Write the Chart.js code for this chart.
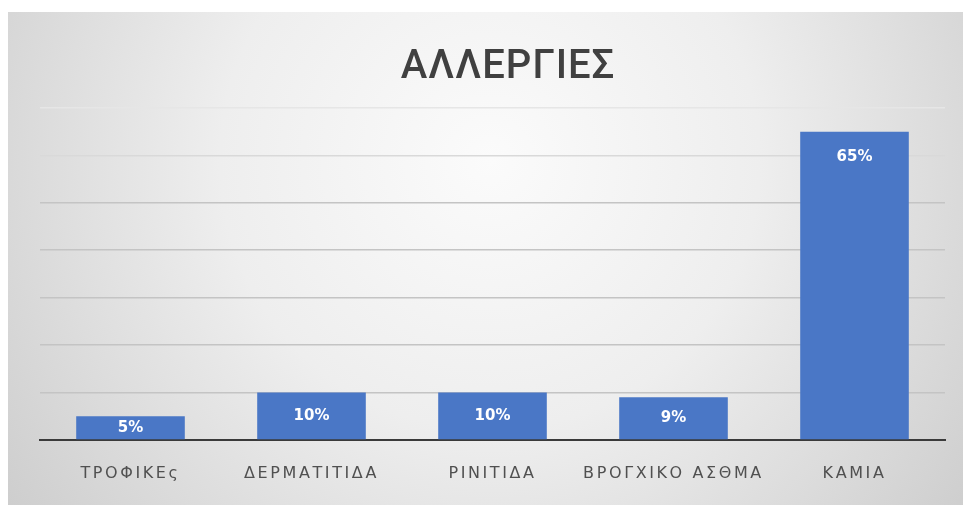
<!DOCTYPE html>
<html>
<head>
<meta charset="utf-8">
<script src="https://cdn.jsdelivr.net/npm/chart.js@4.4.1/dist/chart.umd.min.js"></script>
<style>
  html, body { margin: 0; padding: 0; background: #ffffff; }
  #wrap { width: 963px; height: 505px; }
</style>
</head>
<body>
<div id="wrap"><canvas id="chart" width="963" height="505"></canvas></div>
<script>
// Allergy survey: share of respondents per allergy type (%)
const categories = ["ΤΡΟΦΙΚΕς", "ΔΕΡΜΑΤΙΤΙΔΑ", "ΡΙΝΙΤΙΔΑ", "ΒΡΟΓΧΙΚΟ ΑΣΘΜΑ", "ΚΑΜΙΑ"];
const percentages = [5, 10, 10, 9, 65];
const chartTitle = "ΑΛΛΕΡΓΙΕΣ";
const axisMax = 70;
const axisStep = 10;

const BAR_COLOR = "#4a77c6";

// Card background with a soft radial shade, plus the heading
const cardBackground = {
  id: "cardBackground",
  beforeDraw(chart) {
    const ctx = chart.ctx;
    ctx.save();
    ctx.letterSpacing = "0px";
    ctx.fillStyle = "#ffffff";
    ctx.fillRect(0, 0, chart.width, chart.height);
    const g = ctx.createRadialGradient(490, 160, 0, 490, 160, 600);
    g.addColorStop(0, "#fbfbfb");
    g.addColorStop(0.45, "#eeeeee");
    g.addColorStop(1, "#cdcdcd");
    ctx.fillStyle = g;
    ctx.fillRect(8, 12, chart.width - 8, chart.height - 12);

    ctx.fillStyle = "#404040";
    ctx.font = "500 40px Roboto, 'DejaVu Sans', sans-serif";
    ctx.letterSpacing = "1px";
    ctx.textAlign = "center";
    ctx.textBaseline = "alphabetic";
    ctx.fillText(chartTitle, 508, 78);
    ctx.restore();
  }
};

// Percentage labels inside the top of each bar, then letter spacing for the category labels
const barValueLabels = {
  id: "barValueLabels",
  afterDatasetsDraw(chart) {
    const ctx = chart.ctx;
    const meta = chart.getDatasetMeta(0);
    const values = chart.data.datasets[0].data;
    ctx.save();
    ctx.letterSpacing = "0px";
    ctx.fillStyle = "#ffffff";
    ctx.font = "bold 15px 'DejaVu Sans', sans-serif";
    ctx.textAlign = "center";
    ctx.textBaseline = "middle";
    meta.data.forEach((bar, i) => {
      const y = Math.min(bar.y + 25, (bar.y + bar.base) / 2);
      ctx.fillText(values[i] + "%", bar.x, y);
    });
    ctx.restore();
    ctx.letterSpacing = "2.6px";
  },
  afterDraw(chart) {
    chart.ctx.letterSpacing = "0px";
  }
};

new Chart(document.getElementById("chart"), {
  type: "bar",
  data: {
    labels: categories,
    datasets: [{
      label: chartTitle,
      data: percentages,
      backgroundColor: BAR_COLOR,
      borderWidth: 0,
      categoryPercentage: 0.6,
      barPercentage: 1.0
    }]
  },
  options: {
    responsive: false,
    animation: false,
    devicePixelRatio: 1,
    layout: { padding: { top: 108, left: 40, right: 18, bottom: 0 } },
    plugins: {
      legend: { display: false },
      tooltip: { enabled: false },
      title: { display: false }
    },
    scales: {
      x: {
        grid: { display: false, drawTicks: false },
        border: { display: true, color: "#3a3a3a", width: 2 },
        ticks: {
          z: 1,
          padding: 24,
          color: "#505050",
          font: { family: "'DejaVu Sans', sans-serif", size: 16 }
        },
        afterFit(scale) { scale.height = 65; }
      },
      y: {
        min: 0,
        max: axisMax,
        ticks: { display: false, stepSize: axisStep },
        border: { display: false },
        grid: {
          drawTicks: false,
          lineWidth: 1.6,
          color(ctx) {
            const v = ctx.tick ? ctx.tick.value : 0;
            if (v >= 70) return "#e6e6e6";
            if (v >= 60) return "#d9d9d9";
            return "#c4c4c4";
          }
        },
        afterFit(scale) { scale.width = 0; }
      }
    }
  },
  plugins: [cardBackground, barValueLabels]
});
</script>
</body>
</html>
